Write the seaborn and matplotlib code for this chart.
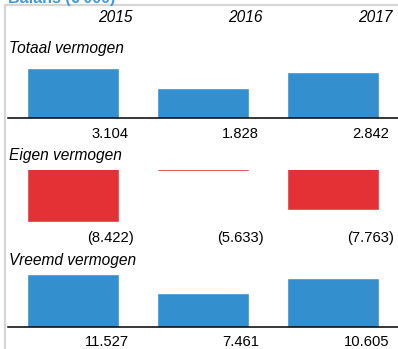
import matplotlib
matplotlib.use("Agg")
import matplotlib.pyplot as plt
import matplotlib.lines as mlines
from matplotlib.transforms import blended_transform_factory
import seaborn as sns

# Balance sheet figures (x EUR 1,000)
years = ["2015", "2016", "2017"]
totaal_vermogen = [3.104, 1.828, 2.842]
eigen_vermogen = [-8.422, -5.633, -7.763]
vreemd_vermogen = [11.527, 7.461, 10.605]
panel_titles = ["Totaal vermogen", "Eigen vermogen", "Vreemd vermogen"]
title = "Balans (\u20ac'000)"

BLUE = "#338fce"
RED = "#e33136"
W, H = 398, 349

sns.set_theme(style="white")
plt.rcParams["font.family"] = ["Liberation Sans", "DejaVu Sans"]

fig = plt.figure(figsize=(W / 100, H / 100), dpi=100)


def rect(x0, y0, x1, y1):
    """Pixel box (top-left origin) to figure fraction rectangle."""
    return [x0 / W, 1 - y1 / H, (x1 - x0) / W, (y1 - y0) / H]


def fy(y):
    return 1 - y / H


def fmt(v):
    s = f"{abs(v):.3f}"
    return f"({s})" if v < 0 else s


# frame lines along the top and left
fig.add_artist(mlines.Line2D([5 / W, 1], [fy(4.8)] * 2, color="#d6d6d6", lw=1.6))
fig.add_artist(mlines.Line2D([5 / W] * 2, [fy(4.8), 0], color="#d6d6d6", lw=1.6))

# heading, mostly above the top edge
fig.text(8 / W, fy(3.2), title, color="#3d9be0", fontsize=11.5, fontweight="bold",
         va="baseline", ha="left")

panels = [
    (totaal_vermogen, BLUE, (68, 117.5), (0, max(totaal_vermogen)), True, 53, 134),
    (eigen_vermogen, RED, (169.5, 221.7), (min(eigen_vermogen), max(eigen_vermogen) + 0.055), False, 160, 238),
    (vreemd_vermogen, BLUE, (274, 326.5), (0, max(vreemd_vermogen)), True, 265, 342),
]

axes = []
for (vals, color, (ytop, ybot), ylim, baseline, title_y, label_y), ptitle in zip(panels, panel_titles):
    ax = fig.add_axes(rect(8, ytop, W, ybot))
    sns.barplot(x=years, y=vals, color=color, saturation=1, width=0.71, ax=ax)
    ax.set_xlim(-0.5, 2.5)
    ax.set_ylim(*ylim)
    ax.set_xticks([])
    ax.set_yticks([])
    ax.set_xlabel("")
    ax.set_ylabel("")
    ax.set_facecolor("none")
    for side in ("top", "left", "right"):
        ax.spines[side].set_visible(False)
    ax.spines["bottom"].set_visible(baseline)
    ax.spines["bottom"].set_color("black")
    ax.spines["bottom"].set_linewidth(1.1)

    fig.text(9 / W, fy(title_y), ptitle, fontsize=11.2, fontstyle="italic",
             ha="left", va="baseline", color="black")

    tr = blended_transform_factory(ax.transData, fig.transFigure)
    for i, v in enumerate(vals):
        off = 0.47 if v < 0 else 0.43
        ax.text(i + off, fy(label_y), fmt(v), transform=tr, ha="right", va="center",
                fontsize=10.6, color="black")
    axes.append(ax)

# year headers
tr = blended_transform_factory(axes[0].transData, fig.transFigure)
for i, yr in enumerate(years):
    axes[0].text(i + 0.46, fy(18), yr, transform=tr, ha="right", va="center",
                 fontsize=11.2, fontstyle="italic", color="black")

fig.savefig("out.png", dpi=100)
